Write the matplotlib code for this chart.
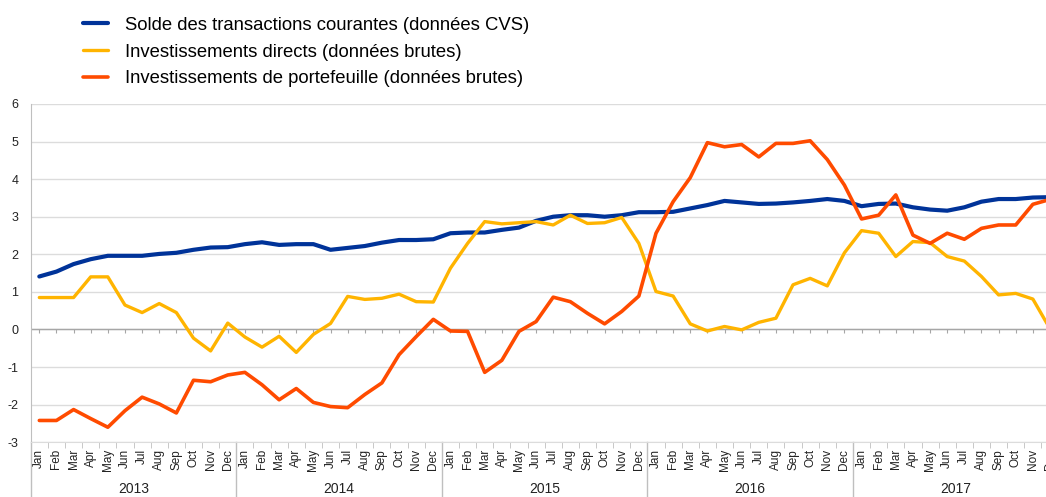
# Solde courant, IDE et investissements de portefeuille, 2013-2017
import numpy as np
import matplotlib
matplotlib.use('Agg')
import matplotlib.pyplot as plt

plt.rcParams['font.family'] = ['Liberation Sans', 'DejaVu Sans']
plt.rcParams['axes.unicode_minus'] = False

annees = ['2013', '2014', '2015', '2016', '2017']
mois = ['Jan', 'Feb', 'Mar', 'Apr', 'May', 'Jun',
        'Jul', 'Aug', 'Sep', 'Oct', 'Nov', 'Dec']

# Solde des transactions courantes (donnees CVS)
solde = [1.41, 1.54, 1.74, 1.87, 1.96, 1.96, 1.96, 2.01, 2.04, 2.12, 2.18, 2.19,
         2.27, 2.32, 2.25, 2.27, 2.27, 2.12, 2.17, 2.22, 2.31, 2.38, 2.38, 2.40,
         2.56, 2.58, 2.58, 2.65, 2.71, 2.89, 3.00, 3.04, 3.04, 3.00, 3.04, 3.12,
         3.12, 3.13, 3.22, 3.31, 3.42, 3.38, 3.34, 3.35, 3.38, 3.42, 3.47, 3.42,
         3.28, 3.34, 3.35, 3.25, 3.19, 3.16, 3.25, 3.40, 3.47, 3.47, 3.51, 3.52]

# Investissements directs (donnees brutes)
directs = [0.85, 0.85, 0.85, 1.40, 1.40, 0.65, 0.45, 0.69, 0.45, -0.23, -0.57, 0.17,
           -0.20, -0.47, -0.18, -0.61, -0.13, 0.16, 0.88, 0.80, 0.83, 0.94, 0.74, 0.73,
           1.63, 2.29, 2.87, 2.81, 2.84, 2.87, 2.78, 3.04, 2.82, 2.84, 2.98, 2.29,
           1.01, 0.89, 0.15, -0.04, 0.08, -0.01, 0.19, 0.30, 1.19, 1.36, 1.16, 2.04,
           2.63, 2.56, 1.94, 2.34, 2.31, 1.94, 1.82, 1.41, 0.92, 0.96, 0.81, 0.02]

# Investissements de portefeuille (donnees brutes)
portefeuille = [-2.42, -2.42, -2.13, -2.37, -2.60, -2.16, -1.80, -1.98, -2.22, -1.35, -1.39, -1.21,
                -1.14, -1.47, -1.87, -1.57, -1.94, -2.05, -2.08, -1.73, -1.42, -0.67, -0.19, 0.27,
                -0.04, -0.05, -1.14, -0.82, -0.05, 0.21, 0.86, 0.74, 0.43, 0.15, 0.48, 0.89,
                2.56, 3.40, 4.04, 4.97, 4.86, 4.92, 4.59, 4.95, 4.95, 5.02, 4.52, 3.84,
                2.94, 3.04, 3.58, 2.51, 2.29, 2.56, 2.40, 2.69, 2.78, 2.78, 3.33, 3.46]

noms = ['Solde des transactions courantes (données CVS)',
        'Investissements directs (données brutes)',
        'Investissements de portefeuille (données brutes)']
couleurs = ['#003399', '#ffb400', '#ff4b00']

x = np.arange(len(solde))
etiquettes = mois * len(annees)
gris = '#bfbfbf'

fig = plt.figure(figsize=(10.46, 4.97), dpi=100)
# le cadre depasse a droite, comme dans l'original (Dec 2017 coupe)
ax = fig.add_axes([0.0294, 0.1101, 0.9826, 0.6808])

lignes = []
for serie, nom, c, lw in zip([solde, directs, portefeuille], noms, couleurs, [3.0, 2.4, 2.6]):
    l, = ax.plot(x, serie, color=c, lw=lw, label=nom,
                 solid_joinstyle='round', solid_capstyle='round', zorder=4)
    lignes.append(l)

ax.set_xlim(-0.5, len(x) - 0.5)
ax.set_ylim(-3, 6)
ax.set_yticks(range(-3, 7))
ax.yaxis.grid(True, color='#dcdcdc', lw=1)
ax.set_axisbelow(True)

# ligne du zero avec petites graduations
ax.axhline(0, color='#a6a6a6', lw=1, zorder=2)
ax.vlines(x, -0.09, 0, color='#a6a6a6', lw=0.8, zorder=2)

for s in ['top', 'right']:
    ax.spines[s].set_visible(False)
ax.spines['left'].set_color(gris)
ax.spines['bottom'].set_color('#dcdcdc')

ax.set_xticks(x)
ax.set_xticklabels(etiquettes, rotation=90, fontsize=8.5, color='#222222')
ax.set_xticks(np.arange(-0.5, len(x), 1), minor=True)
ax.tick_params(axis='x', which='major', length=0, pad=5)
ax.tick_params(axis='x', which='minor', length=4, color=gris)
ax.tick_params(axis='y', length=0, pad=9, labelsize=9, labelcolor='#222222')

# second niveau : les annees
trans = ax.get_xaxis_transform()
for k, an in enumerate(annees):
    ax.text(12 * k + 5.5, -0.138, an, transform=trans, ha='center', va='center',
            fontsize=10, color='#222222')
for k in range(len(annees)):
    ax.plot([12 * k - 0.5] * 2, [0, -0.17], transform=trans, color=gris,
            lw=1, clip_on=False)

fig.legend(handles=lignes, loc='upper left', bbox_to_anchor=(0.079, 0.966),
           frameon=False, fontsize=13.3, handlelength=1.35, handletextpad=0.92,
           labelspacing=0.53, borderpad=0, borderaxespad=0)

plt.savefig('out.png', dpi=100)
